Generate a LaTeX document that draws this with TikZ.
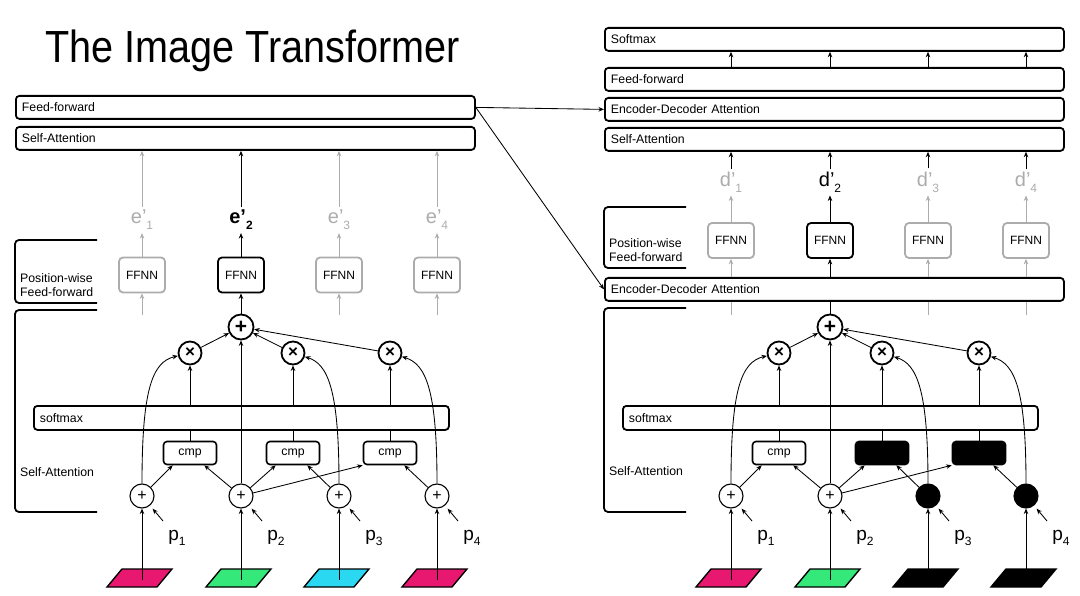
\documentclass[tikz,border=0pt]{standalone}
\usepackage{fontspec}
\setmainfont{Liberation Sans}
\usepackage{graphicx}
\usepackage{tikz}
\usetikzlibrary{arrows.meta}
\definecolor{pinkpix}{RGB}{232,24,112}
\definecolor{greenpix}{RGB}{52,232,122}
\definecolor{cyanpix}{RGB}{42,216,242}
\definecolor{faded}{RGB}{172,172,172}
\newcommand{\subidx}[1]{\raisebox{-0.3em}{\fontsize{12}{12}\selectfont #1}}
\tikzset{
    arr/.style={-{Stealth[length=5.5pt,width=4.5pt]}, line width=0.85pt},
    layer/.style={draw, line width=1.8pt, rounded corners=3.5pt, anchor=north west,
        text width=447pt, inner xsep=6pt, inner ysep=0pt, minimum height=23pt, align=left,
        font=\fontsize{12.3}{14}\selectfont},
    bracket/.style={line width=1.8pt, rounded corners=4pt},
    ffnn/.style={draw, line width=1.8pt, rounded corners=4pt, minimum width=46pt,
        minimum height=35pt, inner sep=0pt, font=\fontsize{12}{13}\selectfont},
    cmpbox/.style={draw, line width=1.6pt, rounded corners=3.5pt, minimum width=53pt,
        minimum height=23pt, inner sep=0pt, font=\fontsize{12.3}{14}\selectfont},
    addnode/.style={circle, draw, line width=1.1pt, minimum size=24pt, inner sep=0pt,
        font=\fontsize{16}{16}\selectfont},
    sumnode/.style={circle, draw, line width=1.8pt, minimum size=25pt, inner sep=0pt,
        font=\bfseries\fontsize{21}{21}\selectfont},
    mulnode/.style={sumnode, minimum size=23pt, font=\bfseries\fontsize{17}{17}\selectfont},
    vec/.style={inner sep=3pt, font=\fontsize{20}{22}\selectfont},
    plab/.style={inner sep=1pt, font=\fontsize{19}{20}\selectfont},
    side/.style={anchor=west, align=left, inner sep=0pt, font=\fontsize{12.3}{14}\selectfont},
    pixel/.style={line width=1.4pt},
}

\begin{document}
\begin{tikzpicture}[x=1pt, y=-1pt]
\useasboundingbox (0,0) rectangle (1080,596);
\node[anchor=base west, inner sep=0pt] (title) at (45,63)
    {\scalebox{0.88}[1]{\fontsize{45}{54}\selectfont The Image Transformer}};

% encoder layers
\node[layer] (ffL) at (15,95) {Feed-forward};
\node[layer] (saL) at (15,126) {Self-Attention};
% decoder layers
\node[layer] (smR) at (604,27) {Softmax};
\node[layer] (ffR) at (604,67) {Feed-forward};
\node[layer] (edR) at (604,97) {Encoder-Decoder Attention};
\node[layer] (saR) at (604,127) {Self-Attention};
\node[layer] (ed2R) at (604,277) {Encoder-Decoder Attention};

% side brackets
\draw[bracket] (97,240) -- (15,240) -- (15,303) -- (97,303);
\draw[bracket] (97,310) -- (15,310) -- (15,512) -- (97,512);
\draw[bracket] (686,207) -- (604,207) -- (604,268) -- (686,268);
\draw[bracket] (686,308) -- (604,308) -- (604,512) -- (686,512);
\node[side] (pwL) at (20,285.5) {Position-wise\\Feed-forward};
\node[side] (sadL) at (20,472) {Self-Attention};
\node[side] (pwR) at (609,250) {Position-wise\\Feed-forward};
\node[side] (sadR) at (609,471) {Self-Attention};

% attention over the pixels, both sides
\foreach \ox/\p/\cc/\cd/\pf in {0/L/cyanpix/pinkpix/white, 589/R/black/black/black}{
\begin{scope}[shift={(\ox,0)}]
\node[layer, text width=403pt, minimum height=24pt] (soft\p) at (33,405) {softmax};
\foreach \i/\x/\col/\f in {1/142/pinkpix/white, 2/241/greenpix/white, 3/339/\cc/\pf, 4/437/\cd/\pf}{
    \draw[pixel, fill=\col] (\x-35,587) -- (\x+15,587) -- (\x+30,569) -- (\x-20,569) -- cycle;
    \coordinate (px\i\p) at (\x,580);
    \node[addnode, fill=\f] (a\i\p) at (\x,496) {+};
    \node[plab] (p\i\p) at (\x+35,538) {p\subidx{\i}};
    \coordinate (pt\i\p) at (\x+21,521);
    \draw[arr] (px\i\p) -- (a\i\p);
    \draw[arr, shorten >=4pt] (pt\i\p) -- (a\i\p);
}
\node[sumnode] (bp\p) at (241,327) {+};
\node[mulnode] (m1\p) at (190,353) {×};
\node[mulnode] (m2\p) at (293,353) {×};
\node[mulnode] (m3\p) at (390,353) {×};
\node[cmpbox] (c1\p) at (190,453) {cmp};
\node[cmpbox, fill=\pf] (c2\p) at (293,453) {cmp};
\node[cmpbox, fill=\pf] (c3\p) at (390,453) {cmp};

\draw[arr] (a1\p) -- ([xshift=10pt]c1\p.south west);
\draw[arr] (a2\p) -- ([xshift=-13pt]c1\p.south east);
\draw[arr] (a2\p) -- ([xshift=10pt]c2\p.south west);
\draw[arr] (a2\p) -- (c3\p.south west);
\draw[arr] (a3\p) -- ([xshift=-13pt]c2\p.south east);
\draw[arr] (a4\p) -- ([xshift=-13pt]c3\p.south east);
\foreach \j in {1,2,3}{
    \draw[line width=0.85pt] (c\j\p.north) -- (c\j\p.north |- soft\p.south);
    \draw[arr] (m\j\p |- soft\p.north) -- (m\j\p);
    \draw[arr] (m\j\p) -- (bp\p);
}
\draw[arr] (a2\p) -- (bp\p);
\draw[arr] (a1\p) .. controls (142,390) and (152,362) .. (m1\p);
\draw[arr] (a3\p) .. controls (339,390) and (328,364) .. (m2\p);
\draw[arr] (a4\p) .. controls (437,390) and (426,364) .. (m3\p);
\end{scope}
}

% encoder outputs
\foreach \i/\x in {1/142,3/339,4/437}{
    \node[ffnn, draw=faded] (fe\i) at (\x,275) {FFNN};
    \node[vec, text=faded] (e\i) at (\x,220) {e’\subidx{\i}};
    \coordinate (ge\i) at (\x,315);
    \draw[arr, faded] (ge\i) -- (fe\i);
    \draw[arr, faded] (fe\i) -- (e\i);
    \draw[arr, faded] (e\i) -- (e\i |- saL.south);
}
\node[ffnn] (fe2) at (241,275) {FFNN};
\node[vec, font=\bfseries\fontsize{20}{22}\selectfont] (e2) at (241,220) {e’\subidx{2}};
\draw[arr] (bpL) -- (fe2);
\draw[arr] (fe2) -- (e2);
\draw[arr] (e2) -- (e2 |- saL.south);

% decoder outputs
\foreach \i/\x in {1/731,3/928,4/1026}{
    \node[ffnn, draw=faded] (fd\i) at (\x,240.5) {FFNN};
    \node[vec, text=faded] (d\i) at (\x,182) {d’\subidx{\i}};
    \coordinate (gd\i) at (\x,315);
    \draw[faded, line width=0.85pt] (gd\i) -- (gd\i |- ed2R.south);
    \draw[arr, faded] (fd\i |- ed2R.north) -- (fd\i);
    \draw[arr, faded] (fd\i) -- (d\i);
}
\node[ffnn] (fd2) at (830,240.5) {FFNN};
\node[vec] (d2) at (830,182) {d’\subidx{2}};
\draw[line width=0.85pt] (bpR) -- (bpR |- ed2R.south);
\draw[arr] (fd2 |- ed2R.north) -- (fd2);
\draw[arr] (fd2) -- (d2);
\foreach \i in {1,...,4}{
    \draw[arr] (d\i) -- (d\i |- saR.south);
    \draw[arr] (fd\i |- ffR.north) -- (fd\i |- smR.south);
}

% encoder to decoder
\draw[arr] (ffL.east) -- (edR.west);
\draw[arr] (ffL.east) -- (ed2R.west);
\end{tikzpicture}
\end{document}
